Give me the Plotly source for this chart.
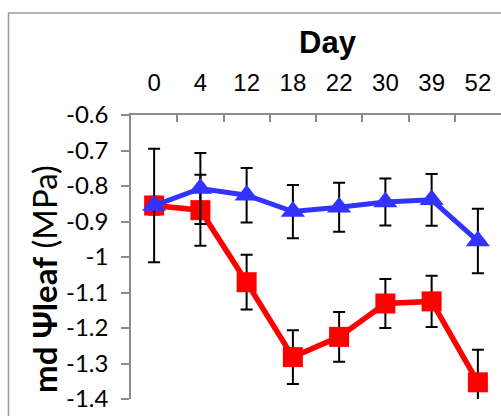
import plotly.graph_objects as go

# Sampling days (categorical axis on top)
days = ["0", "4", "12", "18", "22", "30", "39", "52"]

# Midday leaf water potential, MPa (mean and error)
blue_mean = [-0.855, -0.807, -0.826, -0.872, -0.860, -0.845, -0.839, -0.955]
blue_err = [0.160, 0.100, 0.077, 0.075, 0.069, 0.066, 0.073, 0.091]
red_mean = [-0.855, -0.868, -1.071, -1.282, -1.225, -1.131, -1.125, -1.353]
red_err = [0.025, 0.100, 0.077, 0.076, 0.070, 0.069, 0.072, 0.092]

y_ticks = [-0.6, -0.7, -0.8, -0.9, -1.0, -1.1, -1.2, -1.3, -1.4]
y_tick_text = ["-0.6", "-0.7", "-0.8", "-0.9", "-1", "-1.1", "-1.2", "-1.3", "-1.4"]

W, H = 501, 416
ML, MR, MT, MB = 131, 0, 115, 17
PW, PH = W - ML - MR, H - MT - MB


def px_x(px):
    return (px - ML) / PW


def px_y(py):
    return (H - MB - py) / PH


AXIS_GREY = "#8c8c8c"

fig = go.Figure()

fig.add_trace(go.Scatter(
    x=days, y=red_mean, mode="lines+markers",
    line=dict(color="#ff0000", width=5.5),
    marker=dict(symbol="square", size=20, color="#ff0000"),
    error_y=dict(type="data", array=red_err, color="black", thickness=2, width=6),
    showlegend=False,
))
fig.add_trace(go.Scatter(
    x=days, y=blue_mean, mode="lines+markers",
    line=dict(color="#3333ff", width=5),
    marker=dict(symbol="triangle-up", size=21, color="#3333ff"),
    error_y=dict(type="data", array=blue_err, color="black", thickness=2, width=6),
    showlegend=False,
))

fig.update_xaxes(
    type="category", side="top", range=[-0.5, 7.5],
    showline=True, linecolor=AXIS_GREY, linewidth=1.5,
    ticks="inside", ticklen=7, tickcolor=AXIS_GREY, tickwidth=1.5,
    tickson="boundaries", showgrid=False, zeroline=False,
    tickfont=dict(family="Liberation Sans", size=24, color="black"),
    ticklabelstandoff=13,
)
fig.update_yaxes(
    range=[-1.4, -0.6], tickvals=y_ticks, ticktext=y_tick_text,
    showline=True, linecolor=AXIS_GREY, linewidth=1.5,
    ticks="outside", ticklen=8, tickcolor=AXIS_GREY, tickwidth=1.5,
    showgrid=False, zeroline=False,
    tickfont=dict(family="Lato", size=24, color="black"),
    ticklabelstandoff=8,
)

# Outer chart frame (top and left edges)
fig.add_shape(type="path", xref="paper", yref="paper",
              path=f"M {px_x(8.5)},{px_y(H + 5)} L {px_x(8.5)},{px_y(13)} L {px_x(W + 5)},{px_y(13)}",
              line=dict(color="#999999", width=1.5))

# Axis titles
fig.add_annotation(xref="paper", yref="paper", x=px_x(328), y=px_y(42),
                   text="<b>Day</b>", showarrow=False, xanchor="center", yanchor="middle",
                   font=dict(family="Liberation Sans", size=31, color="black"))
fig.add_annotation(xref="paper", yref="paper", x=px_x(44), y=px_y(279),
                   text="<b>md Ψleaf</b> (MPa)", showarrow=False, textangle=-90,
                   xanchor="center", yanchor="middle",
                   font=dict(family="Lato", size=33, color="black"))

fig.update_layout(
    width=W, height=H, margin=dict(l=ML, r=MR, t=MT, b=MB, pad=0),
    paper_bgcolor="white", plot_bgcolor="white",
)

fig.write_html("out.html")
